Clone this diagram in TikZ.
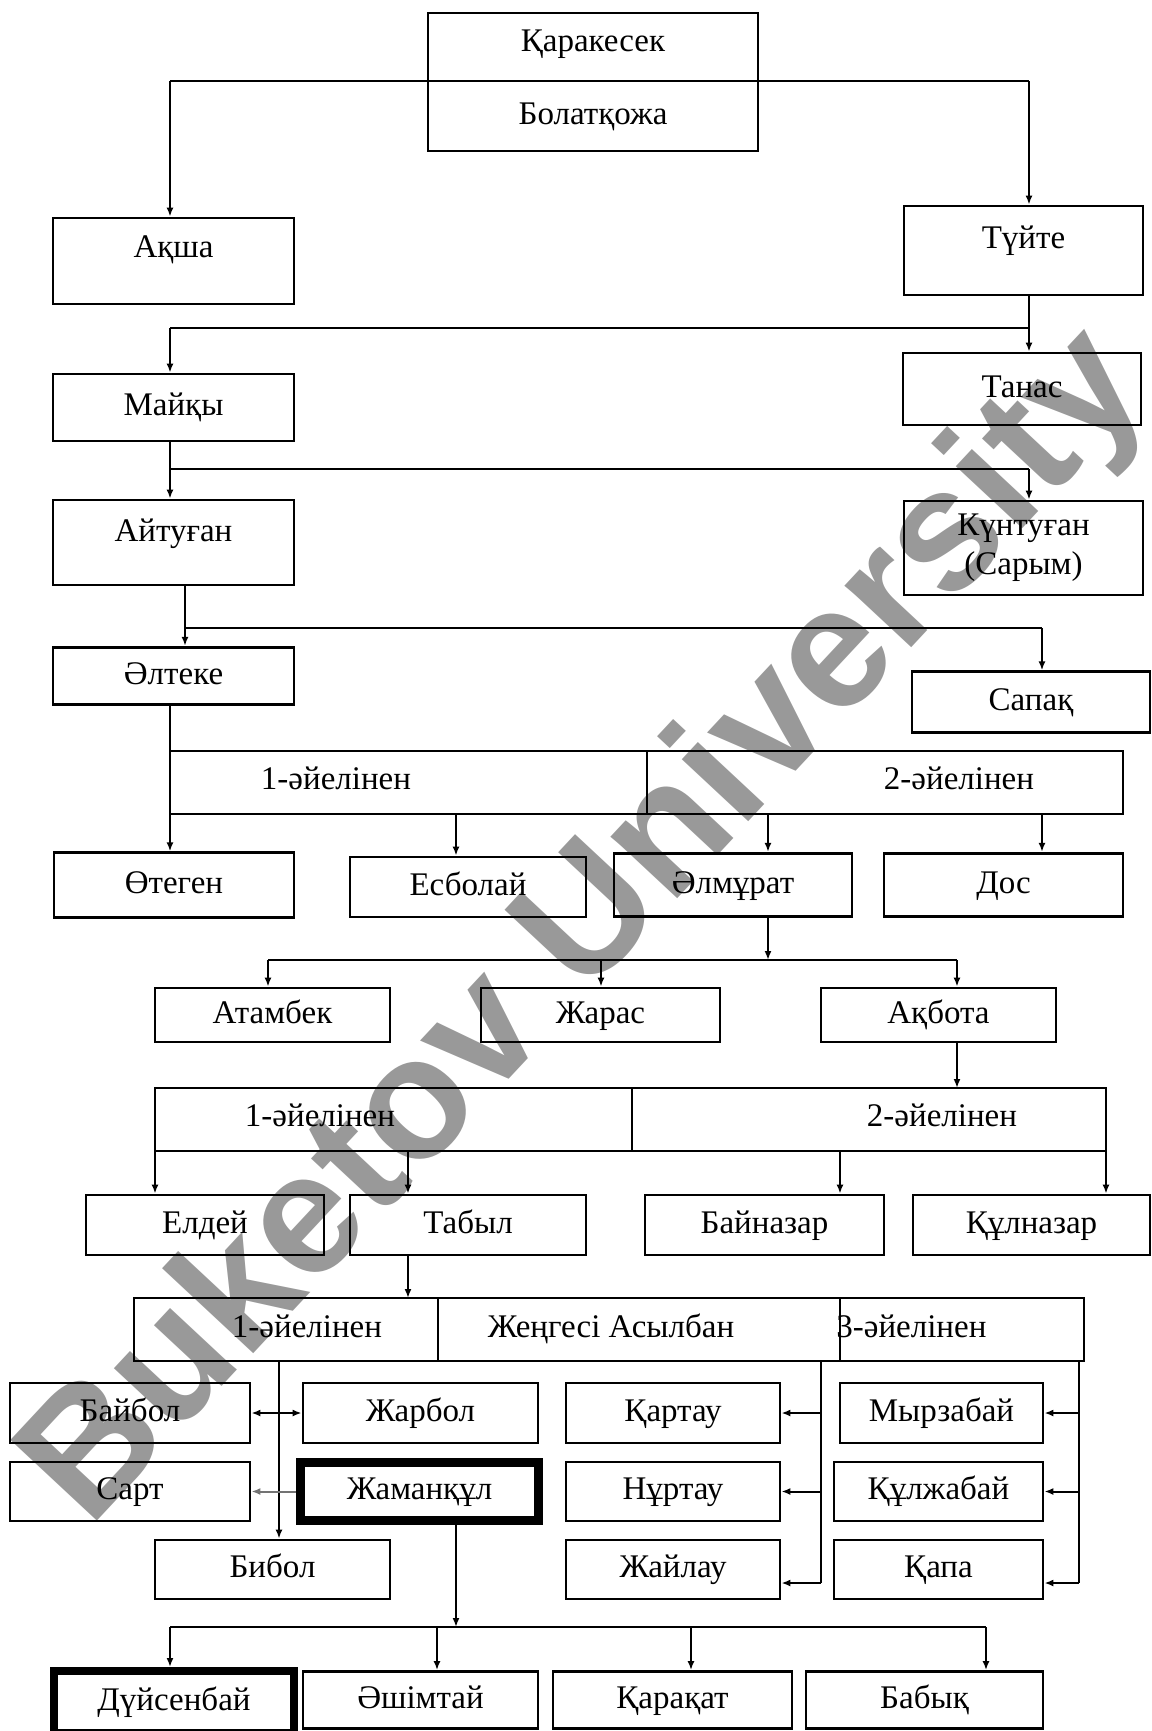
\documentclass[tikz,border=0pt]{standalone}
\usepackage{fontspec}
\setmainfont{Liberation Serif}
\newfontfamily\wmfont{Liberation Sans}
\usetikzlibrary{arrows.meta}

\begin{document}
\begin{tikzpicture}[x=0.5pt,y=-0.5pt,
    font=\fontsize{16.5}{19.5}\selectfont,
    box/.style={draw,line width=1.4pt,inner sep=0pt,text height=11.5pt,text depth=3.5pt},
    bar/.style={draw,line width=1.4pt,inner sep=0pt},
    heavy/.style={box,line width=4.5pt},
    lbl/.style={inner sep=0pt,text height=11.5pt,text depth=3.5pt},
    lift/.style={text depth=#1},
    con/.style={line width=1pt},
    arr/.style={con,-{Latex[length=4.5pt,width=3.5pt]}},
    both/.style={con,{Latex[length=4.5pt,width=3.5pt]}-{Latex[length=4.5pt,width=3.5pt]}}]

  \useasboundingbox (0,0) rectangle (1152,1731);

  \node[anchor=base west,rotate=47,inner sep=0pt,text=black!40,
        font=\wmfont\bfseries\fontsize{86}{86}\selectfont] (wm) at (89,1530) {Buketov University};

  \node[box,lift=7.5pt,minimum width=165pt,minimum height=34pt] (karakesek) at (593,47) {Қаракесек};
  \node[box,minimum width=165pt,minimum height=35pt] (bolatkozha) at (593,116) {Болатқожа};

  \node[box,lift=15.5pt,minimum width=120.5pt,minimum height=43pt] (aksha) at (173.5,261) {Ақша};
  \node[box,lift=14pt,minimum width=119.5pt,minimum height=44.5pt] (tuyte) at (1023.5,250.5) {Түйте};
  \node[box,minimum width=120.5pt,minimum height=33.5pt] (maiky) at (173.5,407.5) {Майқы};
  \node[box,minimum width=119pt,minimum height=36pt] (tanas) at (1022,389) {Танас};
  \node[box,lift=13pt,minimum width=120.5pt,minimum height=42.5pt] (aituqan) at (173.5,542.5) {Айтуған};
  \node[bar,align=center,minimum width=119.5pt,minimum height=47pt] (kuntugan) at (1023.5,548) {Күнтуған\\(Сарым)};
  \node[box,minimum width=120.5pt,minimum height=28.75pt] (alteke) at (173.5,676) {Әлтеке};
  \node[box,minimum width=119pt,minimum height=30.25pt] (sapak) at (1031,702) {Сапақ};

  \node[bar,minimum width=238.5pt,minimum height=31.5pt] (wa1) at (408.5,782.5) {};
  \node[bar,minimum width=238pt,minimum height=31.5pt] (wa2) at (885,782.5) {};
  \node[lbl] (wa1t) at (336,781) {1-әйелінен};
  \node[lbl] (wa2t) at (959,781) {2-әйелінен};

  \node[box,minimum width=120pt,minimum height=32.25pt] (otegen) at (174,885) {Өтеген};
  \node[box,minimum width=118pt,minimum height=30pt] (esbolai) at (468,887) {Есболай};
  \node[box,minimum width=119pt,minimum height=31.75pt] (almurat) at (733,885) {Әлмұрат};
  \node[box,minimum width=119.5pt,minimum height=31.75pt] (dos) at (1003.5,885) {Дос};

  \node[box,minimum width=117.5pt,minimum height=27pt] (atambek) at (272.5,1015) {Атамбек};
  \node[box,minimum width=119.5pt,minimum height=27pt] (zharas) at (600.5,1015) {Жарас};
  \node[box,minimum width=117.5pt,minimum height=27pt] (akbota) at (938.5,1015) {Ақбота};

  \node[bar,minimum width=238.5pt,minimum height=31.5pt] (wb1) at (393.5,1119.5) {};
  \node[bar,minimum width=237pt,minimum height=31.5pt] (wb2) at (869,1119.5) {};
  \node[lbl] (wb1t) at (320,1118) {1-әйелінен};
  \node[lbl] (wb2t) at (942,1118) {2-әйелінен};

  \node[box,minimum width=119pt,minimum height=30pt] (eldei) at (205,1225) {Елдей};
  \node[box,minimum width=118pt,minimum height=30pt] (tabyl) at (468,1225) {Табыл};
  \node[box,minimum width=119.5pt,minimum height=30pt] (bainazar) at (764.5,1225) {Байназар};
  \node[box,minimum width=118.5pt,minimum height=30pt] (kulnazar) at (1031.5,1225) {Құлназар};

  \node[bar,minimum width=152pt,minimum height=31.5pt] (wc1) at (286,1329.5) {};
  \node[bar,minimum width=201pt,minimum height=31.5pt] (wc2) at (639,1329.5) {};
  \node[bar,minimum width=122pt,minimum height=31.5pt] (wc3) at (962,1329.5) {};
  \node[lbl] (wc1t) at (307,1329) {1-әйелінен};
  \node[lbl] (wc2t) at (611,1329) {Жеңгесі Асылбан};
  \node[lbl,anchor=west] (wc3t) at (836,1329) {3-әйелінен};

  \node[box,minimum width=120pt,minimum height=30pt] (baibol) at (130,1413) {Байбол};
  \node[box,minimum width=117.5pt,minimum height=30pt] (zharbol) at (420.5,1413) {Жарбол};
  \node[box,minimum width=120pt,minimum height=29.5pt] (sart) at (130,1491.5) {Сарт};
  \node[heavy,minimum width=119pt,minimum height=29pt] (zhamankul) at (419.5,1491.5) {Жаманқұл};
  \node[box,minimum width=117.5pt,minimum height=29.5pt] (bibol) at (272.5,1569.5) {Бибол};

  \node[box,minimum width=107pt,minimum height=30pt] (kartau) at (673,1413) {Қартау};
  \node[box,minimum width=107pt,minimum height=29.5pt] (nurtau) at (673,1491.5) {Нұртау};
  \node[box,minimum width=107pt,minimum height=29.5pt] (zhailau) at (673,1569.5) {Жайлау};
  \node[box,minimum width=101.5pt,minimum height=30pt] (myrzabai) at (941.5,1413) {Мырзабай};
  \node[box,minimum width=104.5pt,minimum height=29.5pt] (kulzhabai) at (938.5,1491.5) {Құлжабай};
  \node[box,minimum width=104.5pt,minimum height=29.5pt] (kapa) at (938.5,1569.5) {Қапа};

  \node[heavy,line width=4pt,minimum width=120pt,minimum height=31pt] (duisenbai) at (174,1702) {Дүйсенбай};
  \node[box,minimum width=117.5pt,minimum height=28.5pt] (ashimtai) at (420.5,1700) {Әшімтай};
  \node[box,minimum width=119.5pt,minimum height=28.5pt] (karakat) at (672.5,1700) {Қарақат};
  \node[box,minimum width=118.5pt,minimum height=28.5pt] (babyk) at (924.5,1700) {Бабық};

  \coordinate (t1) at (170,81);
  \coordinate (t2) at (1029,81);
  \draw[con,line width=1.4pt] (t1) -- (t2);
  \draw[arr] (t1) -- (t1 |- aksha.north);
  \draw[arr] (t2) -- (t2 |- tuyte.north);

  \coordinate (m1) at (170,328);
  \coordinate (m2) at (1029,328);
  \draw[con] (tuyte.south -| m2) -- (m2) -- (m1);
  \draw[arr] (m1) -- (m1 |- maiky.north);
  \draw[arr] (m2) -- (m2 |- tanas.north);

  \coordinate (a1) at (170,469);
  \coordinate (a2) at (1029,469);
  \draw[con] (maiky.south -| a1) -- (a1) -- (a2);
  \draw[arr] (a1) -- (a1 |- aituqan.north);
  \draw[arr] (a2) -- (a2 |- kuntugan.north);

  \coordinate (e1) at (185,628);
  \coordinate (e2) at (1042,628);
  \draw[con] (aituqan.south -| e1) -- (e1) -- (e2);
  \draw[arr] (e1) -- (e1 |- alteke.north);
  \draw[arr] (e2) -- (e2 |- sapak.north);

  \coordinate (o1) at (170,814);
  \coordinate (o2) at (456,814);
  \coordinate (o3) at (768,814);
  \coordinate (o4) at (1042,814);
  \draw[arr] (alteke.south -| o1) -- (o1 |- otegen.north);
  \draw[arr] (o2) -- (o2 |- esbolai.north);
  \draw[arr] (o3) -- (o3 |- almurat.north);
  \draw[arr] (o4) -- (o4 |- dos.north);

  \coordinate (s0) at (268,960);
  \coordinate (s1) at (768,960);
  \coordinate (s2) at (601,960);
  \coordinate (s3) at (957,960);
  \draw[arr] (almurat.south -| s1) -- (s1);
  \draw[con] (s0) -- (s3);
  \draw[arr] (s0) -- (s0 |- atambek.north);
  \draw[arr] (s2) -- (s2 |- zharas.north);
  \draw[arr] (s3) -- (s3 |- akbota.north);

  \coordinate (k0) at (957,1088);
  \draw[arr] (akbota.south -| k0) -- (k0);
  \coordinate (k1) at (155,1151);
  \coordinate (k2) at (408,1151);
  \coordinate (k3) at (840,1151);
  \coordinate (k4) at (1106,1151);
  \draw[arr] (k1) -- (k1 |- eldei.north);
  \draw[arr] (k2) -- (k2 |- tabyl.north);
  \draw[arr] (k3) -- (k3 |- bainazar.north);
  \draw[arr] (k4) -- (k4 |- kulnazar.north);

  \coordinate (j0) at (408,1298);
  \draw[arr] (tabyl.south -| j0) -- (j0);

  \coordinate (p1) at (279,1361);
  \draw[arr] (p1) -- (p1 |- bibol.north);
  \draw[both] (baibol.east) -- (zharbol.west);
  \draw[arr,black!55] (zhamankul.west) -- (sart.east);

  \coordinate (q1) at (821,1361);
  \coordinate (q2) at (821,1583);
  \draw[con] (q1) -- (q2);
  \draw[arr] (q1 |- kartau) -- (kartau.east);
  \draw[arr] (q1 |- nurtau) -- (nurtau.east);
  \draw[arr] (q2) -- (q2 -| zhailau.east);

  \coordinate (r1) at (1079,1361);
  \coordinate (r2) at (1079,1583);
  \draw[con] (r1) -- (r2);
  \draw[arr] (r1 |- myrzabai) -- (myrzabai.east);
  \draw[arr] (r1 |- kulzhabai) -- (kulzhabai.east);
  \draw[arr] (r2) -- (r2 -| kapa.east);

  \coordinate (n0) at (170,1627);
  \coordinate (n1) at (456,1627);
  \coordinate (n2) at (437,1627);
  \coordinate (n3) at (691,1627);
  \coordinate (n4) at (986,1627);
  \draw[arr] (zhamankul.south -| n1) -- (n1);
  \draw[con] (n0) -- (n4);
  \draw[arr] (n0) -- (n0 |- duisenbai.north);
  \draw[arr] (n2) -- (n2 |- ashimtai.north);
  \draw[arr] (n3) -- (n3 |- karakat.north);
  \draw[arr] (n4) -- (n4 |- babyk.north);
\end{tikzpicture}
\end{document}
